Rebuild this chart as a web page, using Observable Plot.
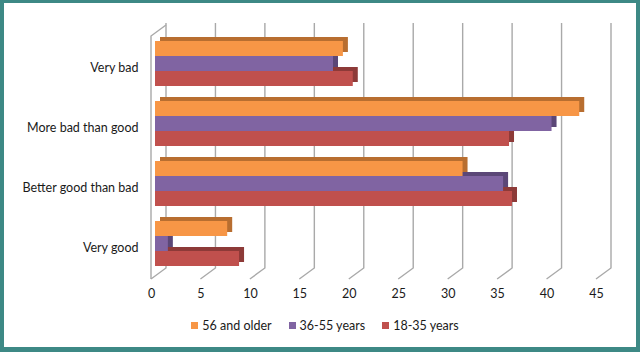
<!DOCTYPE html>
<html>
<head>
<meta charset="utf-8">
<script src="https://cdn.jsdelivr.net/npm/d3@7"></script>
<script src="https://cdn.jsdelivr.net/npm/@observablehq/plot@0.6"></script>
<style>
  html, body { margin: 0; padding: 0; background: #fff; }
  #wrap { position: relative; width: 640px; height: 352px; overflow: hidden; font-family: Lato, "Open Sans", sans-serif; }
  #chart { position: absolute; left: 0; top: 0; }
  #legend { position: absolute; left: 0; top: 318px; width: 640px; padding-left: 10px; box-sizing: border-box;
            display: flex; justify-content: center; gap: 17px; font-size: 12.5px; color: #1a1a1a; }
  #legend .item { display: flex; align-items: center; gap: 4px; }
  #legend .sw { width: 7px; height: 7px; display: inline-block; }
  #border { position: absolute; left: 0; top: 0; width: 640px; height: 352px; box-sizing: border-box;
            border-style: solid; border-color: #3d8985; border-width: 3px 4px 5px 4px; pointer-events: none; }
</style>
</head>
<body>
<div id="wrap">
  <div id="chart"></div>
  <div id="legend"></div>
  <div id="border"></div>
</div>
<script>
// Survey answers (percent of respondents) by age group
const categories = ["Very bad", "More bad than good", "Better good than bad", "Very good"];
const series = ["56 and older", "36-55 years", "18-35 years"];
const older56 = [19.0, 42.9, 31.1, 7.3];
const middle36to55 = [18.0, 40.1, 35.2, 1.3];
const young18to35 = [20.0, 35.8, 36.1, 8.5];
const xTicks = [0, 5, 10, 15, 20, 25, 30, 35, 40, 45];

// Front faces and the darker top/side faces of the 3-D bars
const frontColors = ["#F79646", "#8064A2", "#C0504D"];
const sideColors = ["#B86E30", "#5B4777", "#8D3A38"];

const valuesBySeries = [older56, middle36to55, young18to35];
const key = (c, s) => c + " | " + s;

// One row per bar
const rows = [];
series.forEach((s, si) => {
  categories.forEach((c, ci) => {
    rows.push({category: c, series: s, value: valuesBySeries[si][ci], key: key(c, s)});
  });
});

// Band domain: three bars per category, with an empty slot between groups
const yDomain = [];
categories.forEach((c, ci) => {
  series.forEach(s => yDomain.push(key(c, s)));
  if (ci < categories.length - 1) yDomain.push("space " + ci);
});

const gridColor = "#a9a9a9";

// Back wall gridlines, floor diagonals and the thin left wall
function wallAndGrid(index, scales, values, dimensions) {
  const sx = scales.x;
  const {height, marginTop, marginBottom} = dimensions;
  const bottom = height - marginBottom;
  const back = 11, front = -4, rise = 11;
  const g = d3.create("svg:g")
    .attr("fill", "none")
    .attr("stroke", gridColor)
    .attr("stroke-width", 1.4);
  for (const v of xTicks) {
    const xb = sx(v) + back, xf = sx(v) + front;
    g.append("path").attr("d", `M${xb},${marginTop - 14}L${xb},${bottom - 1}L${xf},${bottom + 10}`);
  }
  const x0f = sx(0) + front, x0b = sx(0) + back;
  g.append("path").attr("d", `M${x0f},${bottom + 10}L${x0f},${marginTop - 1}L${x0b},${marginTop - 1 - rise}`);
  return g.node();
}

const sideMarks = series.map((s, i) =>
  Plot.barX(rows.filter(d => d.series === s), {x: "value", y: "key", fill: sideColors[i], dx: 5, dy: -4})
);
const frontMarks = series.map((s, i) =>
  Plot.barX(rows.filter(d => d.series === s), {x: "value", y: "key", fill: frontColors[i]})
);

const chart = Plot.plot({
  width: 640,
  height: 310,
  marginLeft: 155,
  marginRight: 40,
  marginTop: 37,
  marginBottom: 41,
  style: {fontFamily: "Lato, 'Open Sans', sans-serif", fontSize: "12.5px", color: "#1a1a1a", background: "transparent"},
  x: {domain: [0, 45], axis: null},
  y: {domain: yDomain, padding: 0, axis: null},
  marks: [
    wallAndGrid,
    ...sideMarks,
    ...frontMarks,
    Plot.text(categories, {
      y: c => key(c, series[1]), frameAnchor: "left", textAnchor: "end",
      dx: -17, dy: 4, text: c => c, fill: "#1a1a1a", fontSize: 12.5
    }),
    Plot.text(xTicks, {
      x: d => d, frameAnchor: "bottom", dx: -4, dy: 28, text: d => String(d), fill: "#1a1a1a", fontSize: 12.5
    })
  ]
});
document.getElementById("chart").appendChild(chart);

// Legend below the plot
const legend = document.getElementById("legend");
series.forEach((s, i) => {
  const item = document.createElement("span");
  item.className = "item";
  item.innerHTML = `<span class="sw" style="background:${frontColors[i]}"></span><span>${s}</span>`;
  legend.appendChild(item);
});
</script>
</body>
</html>
